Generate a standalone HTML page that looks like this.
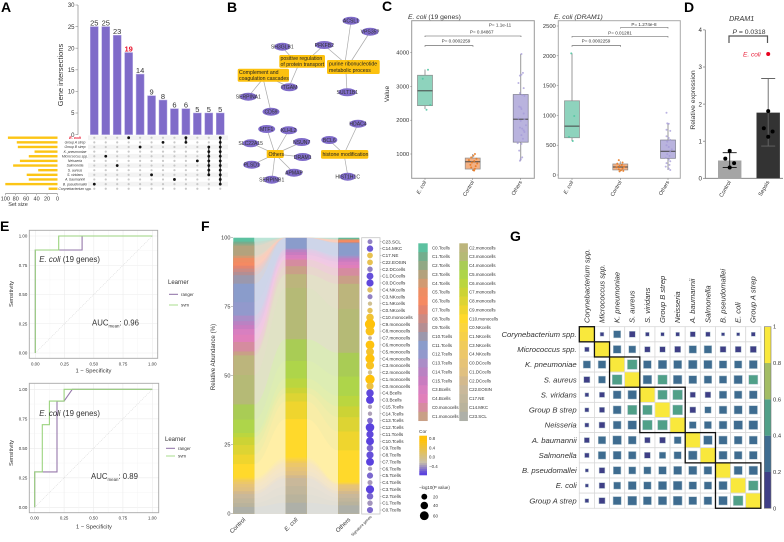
<!DOCTYPE html>
<html>
<head>
<meta charset="utf-8">
<title>Multi-panel figure</title>
<style>
html,body{margin:0;padding:0;background:#fff;width:784px;height:542px;overflow:hidden}
svg{display:block}
text{font-family:"Liberation Sans",sans-serif;fill:#333}
.pl{font-size:14px;font-weight:bold;fill:#000}
.nd{font-size:5.1px;text-anchor:middle;fill:#333}
.bx{font-size:5.2px;fill:#222}
.ed{stroke:#aaa;stroke-width:.7;fill:none}
.ne{fill:#7f6bc9}
.ob{fill:#fcc10f}
</style>
</head>
<body>
<svg id="fig" xmlns="http://www.w3.org/2000/svg" width="784" height="542" viewBox="0 0 784 542">
<rect width="784" height="542" fill="#fff"/>
<text class="pl" x="1" y="12">A</text>
<text class="pl" x="227" y="12">B</text>
<text class="pl" x="382" y="11">C</text>
<text class="pl" x="684" y="12">D</text>
<text class="pl" x="0" y="231">E</text>
<text class="pl" x="201" y="231">F</text>
<text class="pl" x="510" y="241">G</text>

<g id="panelA">
<text transform="translate(63,75) rotate(-90)" font-size="7.5" text-anchor="middle">Gene intersections</text>
<text x="18" y="206" font-size="5.5" text-anchor="middle">Set size</text>
</g>

<g id="panelB">
<g>
<line class="ed" x1="324" y1="45" x2="310" y2="58"/><line class="ed" x1="282" y1="47" x2="292" y2="58"/><line class="ed" x1="289" y1="87" x2="298" y2="66"/>
<line class="ed" x1="324" y1="45" x2="345" y2="63"/><line class="ed" x1="351" y1="21" x2="345" y2="63"/><line class="ed" x1="370" y1="32" x2="350" y2="63"/><line class="ed" x1="347" y1="92" x2="346" y2="72"/>
<line class="ed" x1="248" y1="97" x2="262" y2="80"/><line class="ed" x1="271" y1="112" x2="263" y2="78"/><line class="ed" x1="289" y1="87" x2="270" y2="78"/>
<line class="ed" x1="267" y1="129" x2="275" y2="154"/><line class="ed" x1="289" y1="130" x2="275" y2="154"/><line class="ed" x1="302" y1="142" x2="275" y2="154"/><line class="ed" x1="251" y1="143" x2="275" y2="154"/><line class="ed" x1="303" y1="157" x2="275" y2="154"/><line class="ed" x1="252" y1="165" x2="275" y2="154"/><line class="ed" x1="294" y1="173" x2="275" y2="154"/><line class="ed" x1="272" y1="180" x2="275" y2="154"/>
<line class="ed" x1="358" y1="124" x2="344" y2="154"/><line class="ed" x1="329" y1="140" x2="344" y2="154"/><line class="ed" x1="348" y1="177" x2="344" y2="154"/>
</g>
<g>
<ellipse class="ne" cx="351" cy="20.7" rx="8.5" ry="4"/><text class="nd" x="351" y="22.5">ACSL1</text>
<ellipse class="ne" cx="370" cy="31.7" rx="8.5" ry="4"/><text class="nd" x="370" y="33.5">VPS35?</text>
<ellipse class="ne" cx="282.3" cy="46.7" rx="8" ry="4"/><text class="nd" x="282.3" y="48.5">SH3GLB1</text>
<ellipse class="ne" cx="324.3" cy="45" rx="9" ry="4"/><text class="nd" x="324.3" y="46.8">PFKFB2</text>
<ellipse class="ne" cx="289.3" cy="87.3" rx="8.5" ry="4"/><text class="nd" x="289.3" y="89">ITGAM</text>
<ellipse class="ne" cx="248.3" cy="96.7" rx="8.5" ry="4"/><text class="nd" x="248.3" y="98.5">SERPINA1</text>
<ellipse class="ne" cx="271" cy="111.7" rx="8.5" ry="4"/><text class="nd" x="271" y="113.5">CD59</text>
<ellipse class="ne" cx="347.3" cy="92.3" rx="9" ry="4"/><text class="nd" x="347.3" y="94">SULT1B1</text>
<ellipse class="ne" cx="266.7" cy="129" rx="8.5" ry="4"/><text class="nd" x="266.7" y="130.8">MTF1</text>
<ellipse class="ne" cx="288.7" cy="130.3" rx="8.5" ry="4"/><text class="nd" x="288.7" y="132">KLHL2</text>
<ellipse class="ne" cx="301.7" cy="142" rx="8.5" ry="4"/><text class="nd" x="301.7" y="143.8">NSUN7</text>
<ellipse class="ne" cx="250.7" cy="143.3" rx="8" ry="4"/><text class="nd" x="250.7" y="145">SLC22A15</text>
<ellipse class="ne" cx="302.7" cy="157" rx="8.5" ry="4"/><text class="nd" x="302.7" y="158.8">DRAM1</text>
<ellipse class="ne" cx="251.7" cy="164.7" rx="8.5" ry="4"/><text class="nd" x="251.7" y="166.5">PLSD1</text>
<ellipse class="ne" cx="294" cy="172.7" rx="8.5" ry="4"/><text class="nd" x="294" y="174.5">APMAP</text>
<ellipse class="ne" cx="271.7" cy="179.7" rx="8" ry="4"/><text class="nd" x="271.7" y="181.5">SERPINB1</text>
<ellipse class="ne" cx="358" cy="123.7" rx="8.5" ry="4"/><text class="nd" x="358" y="125.5">HDAC4</text>
<ellipse class="ne" cx="329.3" cy="140" rx="8" ry="4"/><text class="nd" x="329.3" y="141.8">BCL6</text>
<ellipse class="ne" cx="347.7" cy="176.7" rx="8" ry="4"/><text class="nd" x="347.7" y="178.5">HIST1H1C</text>
</g>
<g>
<rect class="ob" x="279.3" y="55" width="45.7" height="12.7" rx="1.5"/>
<text class="bx" x="280.5" y="60">positive regulation</text><text class="bx" x="280.5" y="66">of protein transport</text>
<rect class="ob" x="327" y="60" width="52.7" height="14" rx="1.5"/>
<text class="bx" x="329" y="65.5">purine ribonucleotide</text><text class="bx" x="329" y="72">metabolic process</text>
<rect class="ob" x="237.7" y="68.7" width="51.3" height="13" rx="1.5"/>
<text class="bx" x="239" y="74">Complement and</text><text class="bx" x="239" y="80">coagulation cascades</text>
<rect class="ob" x="266.7" y="150" width="17" height="8" rx="1.5"/>
<text class="bx" x="268.5" y="155.8">Others</text>
<rect class="ob" x="321" y="150" width="47.3" height="8.7" rx="1.5"/>
<text class="bx" x="322.5" y="156.2">histone modification</text>
</g>
</g>

<g id="panelC">
<text x="408" y="19" font-size="6.8"><tspan font-style="italic">E. coli</tspan> (19 genes)</text>
<text x="554" y="19" font-size="6.8" font-style="italic">E. coli (DRAM1)</text>
<rect x="411.7" y="20.7" width="122.6" height="157.6" fill="none" stroke="#999" stroke-width="1"/>
<rect x="558.3" y="20.7" width="122" height="157.6" fill="none" stroke="#aaa" stroke-width="1"/>
<text transform="translate(389,94) rotate(-90)" font-size="6.5" text-anchor="middle">Value</text>
</g>

<g id="panelD">
<text x="741.7" y="21" font-size="7.2" font-style="italic" text-anchor="middle">DRAM1</text>
<text transform="translate(695,100) rotate(-90)" font-size="6.8" text-anchor="middle">Relative expression</text>
<path d="M729 43V36H767.5V43" fill="none" stroke="#555" stroke-width="1.2"/>
<text x="749" y="34" font-size="6.8" text-anchor="middle"><tspan font-style="italic">P</tspan> =  0.0318</text>
<text x="743" y="56.5" font-size="6.5" font-style="italic" style="fill:#e8203a">E. coli</text>
</g>

<g id="panelE"></g>
<g id="panelF">
<text transform="translate(215,357) rotate(-90)" font-size="6.2" text-anchor="middle">Relative Abundance (%)</text>
<rect x="361.7" y="237.7" width="18.3" height="276.3" fill="#fff" stroke="#c4c4c4" stroke-width=".8"/>
<text x="419" y="433" font-size="4.8">Cor</text>
<text x="419" y="489" font-size="4.4">−log10(P value)</text>
</g>
<g id="panelG"></g>
</svg>

<script>
// ---------- Panel A data ----------
const intersectionCounts = [25,25,23,19,14,9,8,6,6,5,5,5];
const intersectionMembers = [[10],[4],[6],[0],[2],[8],[1],[9],[0,1],[5],[2,3,4,5,6,7,8],[0,1,2,3,4,5,6,7,8,9,10]];
const setNames = ["E. coli","Group A strep","Group B strep","K. pneumoniae","Micrococcus spp.","Neisseria","Salmonella","S. aureus","S. viridans","A. baumannii","B. pseudomallei","Corynebacterium spp."];
const setSizes = [95,78,76,44,55,72,85,37,59,55,100,17];
const intersectionTicks = [0,5,10,15,20,25,30];
const setSizeTicks = [100,80,60,40,20,0];
// ---------- Panel C data ----------
const boxGroups = ["E. coli","Control","Others"];
const boxLeftQ1 = [2430,555,1350];
const boxLeftMedian = [2870,770,2030];
const boxLeftQ3 = [3330,880,2760];
const boxLeftLow = [2330,500,800];
const boxLeftHigh = [3500,1000,3960];
const boxRightQ1 = [625,85,280];
const boxRightMedian = [820,134,398];
const boxRightQ3 = [1245,185,587];
const boxRightLow = [570,60,84];
const boxRightHigh = [2040,230,867];
const leftTicks = [1000,2000,3000,4000];
const rightTicks = [0,500,1000,1500,2000,2500];
const leftPtsEcoli = [3494,3228,2450,2310];
const leftJitEcoli = [.4,-.3,.7,.2];
const leftPtsControl = [1000,950,900,860,820,790,750,720,680,640,600,560,520,510];
const leftJitControl = [.3,.1,-.2,.5,-.5,.2,-.1,.6,-.3,.4,-.2,.3,.1,.2];
const leftPtsOthers = [3960,3400,3350,3320,3100,2950,2800,2750,2720,2400,2380,2330,2200,2050,2030,1980,1850,1780,1750,1700,1650,1560,1450,1320,1300,1100,900,850,800];
const leftJitOthers = [.1,.3,.1,-.1,-.3,.4,-.1,.2,.5,-.2,0,.1,.4,-.3,.5,0,.7,-.1,.2,.4,.5,.1,.3,-.4,.1,-.2,.2,0,-.1];
const rightPtsEcoli = [2040,990,640,570];
const rightJitEcoli = [-.1,.3,-.4,.1];
const rightPtsControl = [250,210,190,170,150,140,130,110,95,80,70,60];
const rightJitControl = [-.2,.3,-.4,.2,-.1,.5,-.5,.3,-.2,.1,.4,-.1];
const rightPtsOthers = [1045,867,860,760,740,650,620,590,560,500,470,430,390,350,320,290,260,230,200,170,140,110,84];
const rightJitOthers = [-.2,-.1,.1,-.2,.3,-.2,.1,.3,-.1,-.2,.1,.5,.3,-.1,.2,-.3,.1,.3,-.2,.2,-.3,.1,.3];
// ---------- Panel D data ----------
const dramGroups = ["Control","Sepsis"];
const dramMeans = [.48,1.77];
const dramErrLow = [.29,.87];
const dramErrHigh = [.69,2.69];
const dramPtsControl = [.74,.53,.41,.29];
const dramJitControl = [0,-1,1,0];
const dramPtsSepsis = [1.81,1.35,1.26,1.12];
const dramJitSepsis = [0,-1,1,0];
const dramOutlier = [3.35];
const dramTicks = [0,1,2,3,4];
// ---------- Panel E data ----------
const rocTicks = [0,.25,.5,.75,1];
const roc1RangerX = [0,0,.4,.4,1];
const roc1RangerY = [0,.88,.88,1,1];
const roc1SvmX = [0,0,.2,.2,1];
const roc1SvmY = [0,.88,.88,1,1];
const roc2RangerX = [0,0,.19,.19,.25,.32,1];
const roc2RangerY = [0,.3,.3,.9,.9,1,1];
const roc2SvmX = [0,0,.065,.065,.125,.125,.25,.25,1];
const roc2SvmY = [0,.3,.3,.7,.7,.9,.9,1,1];
// ---------- Panel F data ----------
const clusterNames = ["C0.Tcells","C1.Tcells","C2.Tcells","C3.Tcells","C4.Tcells","C5.Tcells","C6.Tcells","C7.Tcells","C8.Tcells","C9.Tcells","C10.Tcells","C11.Tcells","C12.Tcells","C13.Tcells","C14.Tcells","C15.Tcells","C3.Bcells","C4.Bcells","C0.monocells","C1.monocells","C2.monocells","C3.monocells","C4.monocells","C5.monocells","C6.monocells","C7.monocells","C8.monocells","C9.monocells","C10.monocells","C0.NKcells","C1.NKcells","C3.NKcells","C4.NKcells","C0.DCcells","C1.DCcells","C2.DCcells","C22.EOSIN","C17.NE","C14.MKC","C23.SCL"];
const clusterColors = ["#5cc1a0","#74ad8d","#91a885","#b3a27d","#d19a72","#ee8d63","#f58a62","#e4856f","#cb8b84","#b48e93","#9b98ad","#8a9ccb","#9299cc","#aa8dc7","#ba82c3","#c97cc0","#d87fc0","#e07fba","#d58c9f","#c9a087","#bcb57c","#b5ba76","#a9cc55","#aed54a","#bbd63f","#ccd335","#ddd433","#efd52e","#ffd92b","#fbd53e","#f6d04a","#f0cb5a","#ecc76a","#e6c377","#e0c080","#d3b98d","#c9b89a","#c1b69b","#b9b39c","#aeb0a8"];
const abundanceControl = [1.4,.7,.7,3.6,.8,1.6,1.2,1,1.2,1.2,3,6.6,4.8,2,1.4,1.4,2,2.6,3.4,1.4,7,10.5,5.4,4.8,1.5,2.8,3.4,3.4,4.8,.5,.4,.6,.8,1.2,1.4,1,1.5,1.7,1.4,2.4];
const abundanceEcoli = [0,0,0,0,0,0,0,0,0,0,.1,3.9,0,.5,.8,1,1.2,.5,2.4,2.9,5,18.7,7.9,6.4,3.4,2,3,6.4,14,.7,.7,.6,1.5,1.5,1.5,1,3,3,3,4];
const abundanceOthers = [.3,.2,.1,.1,.1,.4,.4,.1,.1,.1,.2,4.2,.6,.6,.6,.8,1.2,1.2,2.8,3,9.3,16.3,8.8,7.2,3.9,4,5.3,7,11.8,.4,.2,.2,.3,1.2,1,1.1,1.4,1.4,1.4,3.1];
const abundanceTicks = [0,25,50,75,100];
const alluvialGroups = ["Control","E. coli","Others"];
const signatureNames = ["C23.SCL","C14.MKC","C17.NE","C22.EOSIN","C2.DCcells","C1.DCcells","C0.DCcells","C4.NKcells","C3.NKcells","C1.NKcells","C0.NKcells","C10.monocells","C9.monocells","C8.monocells","C7.monocells","C6.monocells","C5.monocells","C4.monocells","C3.monocells","C2.monocells","C1.monocells","C0.monocells","C4.Bcells","C3.Bcells","C15.Tcells","C14.Tcells","C13.Tcells","C12.Tcells","C11.Tcells","C10.Tcells","C9.Tcells","C8.Tcells","C7.Tcells","C6.Tcells","C5.Tcells","C4.Tcells","C3.Tcells","C2.Tcells","C1.Tcells","C0.Tcells"];
const signatureCor = [-.2,-.33,.45,.45,-.2,-.36,-.38,.35,-.2,.12,.4,.6,.8,.72,-.05,.78,.62,.8,.68,.1,.8,.52,-.38,-.4,-.1,-.1,-.26,-.4,-.38,-.4,-.28,-.36,-.4,-.1,-.28,-.12,-.4,-.28,-.14,-.28];
const signatureLogP = [8,18,13,13,11,22,25,11,9,5,11,28,62,43,3,43,32,47,35,5,50,25,28,32,5,5,13,40,25,32,19,25,32,5,16,9,35,19,11,16];
const corLegendTicks = [.8,.4,0,-.4];
const sizeLegendValues = [20,40,60];
// ---------- Panel G data ----------
const speciesNames = ["Corynebacterium spp.","Micrococcus spp.","K. pneumoniae","S. aureus","S. viridans","Group B strep","Neisseria","A. baumannii","Salmonella","B. pseudomallei","E. coli","Group A strep"];
const corrRow0 = [1,.07,.25,.17,.07,.06,.07,.13,.1,.05,.05,.08];
const corrRow1 = [.1,1,.29,.24,.15,.15,.18,.27,.28,.17,.17,.19];
const corrRow2 = [.26,.29,1,.45,.3,.35,.32,.36,.33,.28,.27,.32];
const corrRow3 = [.18,.24,.46,1,.36,.42,.36,.3,.28,.27,.34,.4];
const corrRow4 = [.07,.13,.3,.36,1,.42,.45,.14,.16,.27,.28,.3];
const corrRow5 = [.08,.13,.31,.42,.43,1,.46,.17,.2,.29,.32,.34];
const corrRow6 = [.08,.17,.3,.36,.45,.46,1,.23,.25,.3,.37,.38];
const corrRow7 = [.13,.27,.36,.3,.15,.17,.24,1,.36,.33,.3,.32];
const corrRow8 = [.1,.28,.31,.28,.17,.2,.26,.36,1,.32,.29,.3];
const corrRow9 = [.05,.16,.28,.25,.25,.29,.32,.33,.3,1,.33,.36];
const corrRow10 = [.05,.16,.24,.32,.27,.33,.37,.28,.27,.33,1,.44];
const corrRow11 = [.07,.18,.32,.38,.32,.34,.38,.3,.3,.36,.45,1];
const corrMatrix = [corrRow0,corrRow1,corrRow2,corrRow3,corrRow4,corrRow5,corrRow6,corrRow7,corrRow8,corrRow9,corrRow10,corrRow11];
const clusterStart = [0,1,2,4,7,9];
const clusterEnd = [0,1,3,6,8,11];
const corrBins = [0,.2,.4,.6,.8];
const corrBinColors = ["#3f3f86","#3e6c90","#50a088","#a3bd64","#f9e83c"];
const corrTicks = [0,.2,.4,.6,.8,1];

const NS = "http://www.w3.org/2000/svg";
function add(p, tag, attrs, txt){
  const e = document.createElementNS(NS, tag);
  for (const k in attrs) e.setAttribute(k, attrs[k]);
  if (txt !== undefined) e.textContent = txt;
  p.appendChild(e);
  return e;
}
function slug(s){ return String(s).toLowerCase().replace(/[^a-z0-9]+/g,'-').replace(/^-|-$/g,''); }
const $ = id => document.getElementById(id);

// ---------- Panel A ----------
(function(){
  const g = $('panelA');
  const yA = v => 134.6 - v * 4.32;
  const xA = i => 94.3 + i * 11.45;
  const rowY = r => 137.7 + r * 4.64;
  const xS = v => 57.5 - v * 0.522;
  const axis = add(g,'line',{x1:78,x2:78,y1:yA(30),y2:yA(0),stroke:'#999','stroke-width':.8});
  
  
  intersectionTicks.forEach(t=>{
    const tk = add(g,'line',{x1:75.5,x2:78,y1:yA(t),y2:yA(t),stroke:'#999','stroke-width':.7});
    
    
    const lb = add(g,'text',{x:74.5,y:yA(t)+2.2,'font-size':6,'text-anchor':'end'},t);
    
    
  });
  intersectionCounts.forEach((c,i)=>{
    const b = add(g,'rect',{x:xA(i)-4,y:yA(c),width:8,height:yA(0)-yA(c),fill:'#7f6bc9',stroke:'#b6abe4','stroke-width':.5});
    
    
    const red = i===3;
    const l = add(g,'text',{x:xA(i),y:yA(c)-1,'font-size':7.5,'text-anchor':'middle','font-weight':red?'bold':'normal',style:red?'fill:#e8102a':'fill:#333'},c);
    
    
  });
  setNames.forEach((n,r)=>{
    if(r%2===0){
      const st = add(g,'rect',{x:88,y:rowY(r)-2.3,width:140,height:4.64,fill:'#f3f3f3'});
      
      
    }
    const sb = add(g,'rect',{x:xS(setSizes[r]),y:rowY(r)-1.2,width:57.5-xS(setSizes[r]),height:2.4,fill:'#fcc515'});
    
    
    const tx = add(g,'text',{x:75,y:rowY(r)+1.2,'font-size':r===0?4:3.4,'text-anchor':'middle','font-style':'italic','font-weight':r===0?'bold':'normal',style:r===0?'fill:#e8102a':'fill:#333'},n);
    
    
    intersectionCounts.forEach((c,i)=>{
      const d = add(g,'circle',{cx:xA(i),cy:rowY(r),r:1.1,fill:'#c8c8c8'});
      
      
    });
  });
  intersectionMembers.forEach((m,i)=>{
    if(m.length>1){
      const ln = add(g,'line',{x1:xA(i),x2:xA(i),y1:rowY(Math.min(...m)),y2:rowY(Math.max(...m)),stroke:'#111','stroke-width':1});
      
      
    }
    m.forEach(r=>{
      const d = add(g,'circle',{cx:xA(i),cy:rowY(r),r:1.4,fill:'#111'});
      
      
    });
  });
  const sa = add(g,'line',{x1:xS(100),x2:xS(0),y1:193.7,y2:193.7,stroke:'#777','stroke-width':.6});
  
  
  setSizeTicks.forEach(t=>{
    const tk = add(g,'line',{x1:xS(t),x2:xS(t),y1:193.7,y2:195.3,stroke:'#777','stroke-width':.5});
    
    
    const lb = add(g,'text',{x:xS(t),y:200.5,'font-size':5.5,'text-anchor':'middle'},t);
    
    
  });
})();

// ---------- Panel C ----------
(function(){
  const g = $('panelC');
  const yL = v => 154 - (v-1000)*0.0338;
  const yR = v => 175 - v*0.0596;
  const fills = ['#8ed3bd','#f4b183','#b9b3de'];
  const edges = ['#8c8c8c','#8c8c8c','#7c7c8c'];
  const dots = ['#52c7a3','#e97a22','#a49ad8'];
  function drawPanel(side, y, cxs, w, q1, med, q3, lo, hi, ptSets, jitSets, ticks, axisX){
    ticks.forEach(t=>{
      const lb = add(g,'text',{x:axisX-2.5,y:y(t)+2,'font-size':5.8,'text-anchor':'end'},t);
      
      
      const tk = add(g,'line',{x1:axisX-1.5,x2:axisX,y1:y(t),y2:y(t),stroke:'#777','stroke-width':.5});
      
      
    });
    boxGroups.forEach((name,i)=>{
      const c = cxs[i];
      const wh = add(g,'line',{x1:c,x2:c,y1:y(lo[i]),y2:y(hi[i]),stroke:'#9a9a9a','stroke-width':1});
      
      
      const b = add(g,'rect',{x:c-w/2,y:y(q3[i]),width:w,height:y(q1[i])-y(q3[i]),fill:fills[i],stroke:edges[i],'stroke-width':.7});
      
      
      const m = add(g,'line',{x1:c-w/2,x2:c+w/2,y1:y(med[i]),y2:y(med[i]),stroke:'#444','stroke-width':1});
      
      
      ptSets[i].forEach((v,k)=>{
        const p = add(g,'circle',{cx:c+jitSets[i][k]*w/2,cy:y(v),r:1,fill:dots[i],opacity:i===2?.75:.9});
        
        
      });
      const tk = add(g,'line',{x1:c,x2:c,y1:178.3,y2:180,stroke:'#777','stroke-width':.5});
      
      
      const xl = add(g,'text',{transform:'translate('+(c+1.5)+',182) rotate(-60)','font-size':5.3,'text-anchor':'end','font-style':i===0?'italic':'normal'},name);
      
      
    });
  }
  drawPanel('left-box', yL, [425,472.7,520.7], 15, boxLeftQ1, boxLeftMedian, boxLeftQ3, boxLeftLow, boxLeftHigh,
    [leftPtsEcoli,leftPtsControl,leftPtsOthers],[leftJitEcoli,leftJitControl,leftJitOthers],leftTicks,411.7);
  drawPanel('right-box', yR, [572,620.3,668], 15, boxRightQ1, boxRightMedian, boxRightQ3, boxRightLow, boxRightHigh,
    [rightPtsEcoli,rightPtsControl,rightPtsOthers],[rightJitEcoli,rightJitControl,rightJitOthers],rightTicks,558.3);
  function bracket(x1,x2,yy,label,tx,ty){
    if(x1!==null){
      const l = add(g,'path',{d:'M'+x1+' '+(yy+1)+'V'+yy+'H'+x2+'V'+(yy+1),fill:'none',stroke:'#555','stroke-width':.6});
      
      
    }
    const t = add(g,'text',{x:tx,y:ty,'font-size':4.6,'text-anchor':'middle'},label);
    
    
  }
  bracket(425,473,45.7,'P= 0.0002259',456,42.5);
  bracket(425,521,36,'P= 0.04867',481.7,33.5);
  bracket(null,0,0,'P= 1.1e-11',500,26.5);
  bracket(572,620.7,45.7,'P= 0.0002259',596,42.5);
  bracket(572,668,36.5,'P= 0.01281',620,34.5);
  bracket(620.7,668,27.5,'P= 1.274e-8',644,25.8);
})();

// ---------- Panel D ----------
(function(){
  const g = $('panelD');
  const y = v => 178.3 - v*37.1;
  const cx = [729.7,768.2];
  const fill = ['#a5a5a5','#333333'];
  const axis = add(g,'path',{d:'M705.3 '+y(4)+'V'+y(0)+'H783',fill:'none',stroke:'#777','stroke-width':.8});
  
  
  dramTicks.forEach(t=>{
    const tk = add(g,'line',{x1:703,x2:705.3,y1:y(t),y2:y(t),stroke:'#777','stroke-width':.7});
    
    
    const lb = add(g,'text',{x:702,y:y(t)+2.2,'font-size':6.2,'text-anchor':'end'},t);
    
    
  });
  dramGroups.forEach((n,i)=>{
    const b = add(g,'rect',{x:cx[i]-11.7,y:y(dramMeans[i]),width:23.4,height:y(0)-y(dramMeans[i]),fill:fill[i]});
    
    
    const er = add(g,'path',{d:'M'+(cx[i]-7)+' '+y(dramErrHigh[i])+'H'+(cx[i]+7)+'M'+cx[i]+' '+y(dramErrHigh[i])+'V'+y(dramErrLow[i])+'M'+(cx[i]-7)+' '+y(dramErrLow[i])+'H'+(cx[i]+7),fill:'none',stroke:i?'#666':'#111','stroke-width':.9});
    
    
    const xl = add(g,'text',{transform:'translate('+(cx[i]+1.5)+',182) rotate(-60)','font-size':5.6,'text-anchor':'end'},n);
    
    
  });
  dramPtsControl.forEach((v,i)=>{
    const p = add(g,'circle',{cx:cx[0]+dramJitControl[i]*4.4,cy:y(v),r:2,fill:'#000'});
    
    
  });
  dramPtsSepsis.forEach((v,i)=>{
    const p = add(g,'circle',{cx:cx[1]+dramJitSepsis[i]*4.4,cy:y(v),r:2,fill:'#000'});
    
    
  });
  dramOutlier.forEach(v=>{
    const p = add(g,'circle',{cx:cx[1],cy:y(v),r:2,fill:'#e8001e'});
    
    
  });
})();

// ---------- Panel E ----------
(function(){
  const g = $('panelE');
  function roc(pre, fx, fy, x0, x1, y1, y0, rx, ry, sx, sy, auc, titleY, aucX, aucY, xtY, ytY, lgX, lgY, lgStep, ttlY){
    const X = v => x0 + v*(x1-x0);
    const Y = v => y0 - v*(y0-y1);
    const fr = add(g,'rect',{x:fx,y:fy,width:rx,height:ry,fill:'#fff'});
    
    
    rocTicks.forEach((t,i)=>{
      const gx = add(g,'line',{x1:X(t),x2:X(t),y1:fy,y2:fy+ry,stroke:'#ebebeb','stroke-width':.6});
      
      
      const gy = add(g,'line',{x1:fx,x2:fx+rx,y1:Y(t),y2:Y(t),stroke:'#ebebeb','stroke-width':.6});
      
      
      if(i<4){
        const mx = add(g,'line',{x1:X(t+.125),x2:X(t+.125),y1:fy,y2:fy+ry,stroke:'#f4f4f4','stroke-width':.4});
        
        
        const my = add(g,'line',{x1:fx,x2:fx+rx,y1:Y(t+.125),y2:Y(t+.125),stroke:'#f4f4f4','stroke-width':.4});
        
        
      }
      const xl = add(g,'text',{x:X(t),y:fy+ry+7,'font-size':4.4,'text-anchor':'middle'},t.toFixed(2));
      
      
      const yl = add(g,'text',{x:fx-2,y:Y(t)+1.6,'font-size':4.4,'text-anchor':'end'},t.toFixed(2));
      
      
    });
    const dg = add(g,'line',{x1:X(0),y1:Y(0),x2:X(1),y2:Y(1),stroke:'#d8d8d8','stroke-width':.6,'stroke-dasharray':'1 1'});
    
    
    const path = (xs,ys)=> xs.map((v,i)=>(i?'L':'M')+X(v).toFixed(1)+' '+Y(ys[i]).toFixed(1)).join('');
    const r = add(g,'path',{d:path(sx[0],sy[0]),fill:'none',stroke:'#9678ab','stroke-width':1.1});
    
    
    const s = add(g,'path',{d:path(sx[1],sy[1]),fill:'none',stroke:'#9bd37f','stroke-width':1.1});
    
    
    const bd = add(g,'rect',{x:fx,y:fy,width:rx,height:ry,fill:'none',stroke:'#a8a8a8','stroke-width':.9});
    
    
    const tt = add(g,'text',{x:fx+10,y:titleY,'font-size':7.8});
    
    
    add(tt,'tspan',{'font-style':'italic'},'E. coli');
    add(tt,'tspan',{},' (19 genes)');
    const au = add(g,'text',{x:aucX,y:aucY,'font-size':7.8});
    
    
    add(au,'tspan',{},'AUC');
    add(au,'tspan',{dy:2,'font-size':4.4},'mean');
    add(au,'tspan',{dy:-2},': '+auc);
    const xt = add(g,'text',{x:(fx+rx/2),y:xtY,'font-size':5.8,'text-anchor':'middle'},'1 − Specificity');
    
    
    const yt = add(g,'text',{transform:'translate(13,'+ytY+') rotate(-90)','font-size':5.8,'text-anchor':'middle'},'Sensitivity');
    
    
    const lt = add(g,'text',{x:lgX-1,y:ttlY,'font-size':6},'Learner');
    
    
    ['ranger','svm'].forEach((n,i)=>{
      const l = add(g,'line',{x1:lgX,x2:lgX+9,y1:lgY+i*lgStep,y2:lgY+i*lgStep,stroke:i?'#a9dc8e':'#8a6ca4','stroke-width':1});
      
      
      const tx = add(g,'text',{x:lgX+12,y:lgY+i*lgStep+1.5,'font-size':4.4},n);
      
      
    });
  }
  roc('roc-top',29.3,230.3,35.3,152.3,236,353,128.4,128,[roc1RangerX,roc1SvmX],[roc1RangerY,roc1SvmY],'0.96',262,92,325.7,372.7,294,169,294.3,10.7,284);
  roc('roc-bottom',29.3,383.3,34.7,152.3,389.3,507.3,129.4,129.4,[roc2RangerX,roc2SvmX],[roc2RangerY,roc2SvmY],'0.89',416,91,479,528.3,453,166,448.3,7.7,441);
})();

// ---------- Panel F ----------
(function(){
  const g = $('panelF');
  const Y = v => 513.7 - v*2.76;
  const barX = [233.3,285.7,338.3];
  const barW = 21;
  const sets = [abundanceControl,abundanceEcoli,abundanceOthers];
  const stacks = sets.map(vals=>{
    const sum = vals.reduce((a,b)=>a+b,0);
    let top = 100;
    return vals.map(v=>{ const h = v/sum*100; const s=[top,top-h]; top-=h; return s; });
  });
  const tint = hex => {
    const c = [1,3,5].map(k=>parseInt(hex.substr(k,2),16));
    return 'rgb('+c.map(v=>Math.round(255-(255-v)*.42)).join(',')+')';
  };
  for(let gap=0;gap<2;gap++){
    clusterNames.forEach((n,i)=>{
      const a = stacks[gap][i], b = stacks[gap+1][i];
      if(a[0]-a[1]+b[0]-b[1] < .01) return;
      const xa = barX[gap]+barW, xb = barX[gap+1];
      const w = xb - xa;
      const f = add(g,'path',{d:'M'+xa+' '+Y(a[0])+'C'+(xa+w*.4)+' '+Y(a[0])+' '+(xb-w*.4)+' '+Y(b[0])+' '+xb+' '+Y(b[0])+'V'+Y(0)+'H'+xa+'Z',fill:tint(clusterColors[i])});
      
      
    });
  }
  alluvialGroups.forEach((name,gi)=>{
    clusterNames.forEach((n,i)=>{
      const s = stacks[gi][i];
      if(s[0]-s[1] < .01) return;
      const r = add(g,'rect',{x:barX[gi],y:Y(s[0]),width:barW,height:Y(0)-Y(s[0]),fill:clusterColors[i]});
      
      
    });
    const xl = add(g,'text',{transform:'translate('+(barX[gi]+barW/2+2)+',520) rotate(-45)','font-size':6,'text-anchor':'end','font-style':gi===1?'italic':'normal'},name);
    
    
  });
  abundanceTicks.forEach(t=>{
    const tk = add(g,'line',{x1:231,x2:233,y1:Y(t),y2:Y(t),stroke:'#888','stroke-width':.5});
    
    
    const lb = add(g,'text',{x:230.5,y:Y(t)+2,'font-size':5.6,'text-anchor':'end'},t);
    
    
  });
  const sg = add(g,'text',{transform:'translate(372,517) rotate(-45)','font-size':3.8,'text-anchor':'end'},'Signature genes');
  
  

  // correlation colour scale
  const lerp = (a,b,t)=>a.map((v,i)=>Math.round(v+(b[i]-v)*t));
  const corCol = c=>{
    const low=[90,66,222], mid=[200,192,170], hi=[255,194,10];
    const rgb = c<0 ? lerp(mid,low,Math.min(1,-c/.4)) : lerp(mid,hi,Math.min(1,c/.8));
    return 'rgb('+rgb.join(',')+')';
  };
  const sizeR = p => 1 + Math.sqrt(p)*0.52;
  const rowY = i => 241.7 + i*6.88;
  signatureNames.forEach((n,i)=>{
    const d = add(g,'circle',{cx:370,cy:rowY(i),r:sizeR(signatureLogP[i]),fill:corCol(signatureCor[i])});
    
    
    const tk = add(g,'line',{x1:380,x2:381.5,y1:rowY(i),y2:rowY(i),stroke:'#888','stroke-width':.4});
    
    
    const lb = add(g,'text',{x:382.3,y:rowY(i)+1.6,'font-size':4.6},n);
    
    
  });

  // cluster legend
  clusterNames.forEach((n,i)=>{
    const col = i<20?0:1;
    const row = i<20?i:i-20;
    const sx = col?459.3:418.3;
    const sw = add(g,'rect',{x:sx,y:243.3+row*8.87,width:col?8.6:9.4,height:9.2,fill:clusterColors[i]});
    
    
    const lb = add(g,'text',{x:col?469:432,y:243.3+row*8.87+6,'font-size':4.4},n);
    
    
  });

  // cor colour bar
  const CORSTEPS = 20;
  for(let s=0;s<CORSTEPS;s++){
    const v = 1 - s/CORSTEPS*1.45 - .05;
    const r = add(g,'rect',{x:419.3,y:435.7+s*39.3/CORSTEPS,width:7.7,height:39.3/CORSTEPS+.3,fill:corCol(v)});
    
    
  }
  corLegendTicks.forEach(t=>{
    const lb = add(g,'text',{x:429,y:457 - t*23.3+1.6,'font-size':4.4},t===0?'0.0':String(t).replace('-','−'));
    
    
  });
  sizeLegendValues.forEach((v,i)=>{
    const yy = [496.7,505.5,515.7][i];
    const d = add(g,'circle',{cx:424.3,cy:yy,r:sizeR(v)*.88,fill:'#000'});
    
    
    const lb = add(g,'text',{x:433,y:yy+1.6,'font-size':4.4},v);
    
    
  });
})();

// ---------- Panel G ----------
(function(){
  const g = $('panelG');
  const cell = 15.13, x0 = 579.3, y0 = 326.7;
  const colr = v => { let k=0; corrBins.forEach((b,i)=>{ if(v>=b) k=i; }); return corrBinColors[k]; };
  speciesNames.forEach((n,r)=>{
    const rl = add(g,'text',{x:576.7,y:y0+r*cell+cell/2+2.6,'font-size':7.7,'font-style':'italic','text-anchor':'end'},n);
    
    
    const cl = add(g,'text',{transform:'translate('+(x0+r*cell+cell/2+2.4)+',323) rotate(-90)','font-size':7.6,'font-style':'italic'},n);
    
    
    corrMatrix[r].forEach((v,c)=>{
      const bg = add(g,'rect',{x:x0+c*cell,y:y0+r*cell,width:cell,height:cell,fill:'#fff',stroke:'#d9d9d9','stroke-width':.8});
      
      
      const s = v>=1 ? cell-.6 : cell*Math.sqrt(v)*.95;
      const sq = add(g,'rect',{x:x0+c*cell+cell/2-s/2,y:y0+r*cell+cell/2-s/2,width:s,height:s,fill:colr(v),stroke:v>=1?'none':'#b3c6d0','stroke-width':.5});
      
      
    });
  });
  clusterStart.forEach((st,i)=>{
    const en = clusterEnd[i];
    const b = add(g,'rect',{x:x0+st*cell,y:y0+st*cell,width:(en-st+1)*cell,height:(en-st+1)*cell,fill:'none',stroke:'#111','stroke-width':1.3});
    
    
  });
  const cbY = v => 508.3 - v*181.6;
  corrBins.forEach((b,i)=>{
    const r = add(g,'rect',{x:764.3,y:cbY(b+.2),width:6.7,height:cbY(b)-cbY(b+.2),fill:corrBinColors[i]});
    
    
  });
  const cf = add(g,'rect',{x:764.3,y:cbY(1),width:6.7,height:181.6,fill:'none',stroke:'#777','stroke-width':.6});
  
  
  corrTicks.forEach(t=>{
    const lb = add(g,'text',{x:773,y:cbY(t)+2,'font-size':5.8},t);
    
    
  });
})();
</script>
</body>
</html>
